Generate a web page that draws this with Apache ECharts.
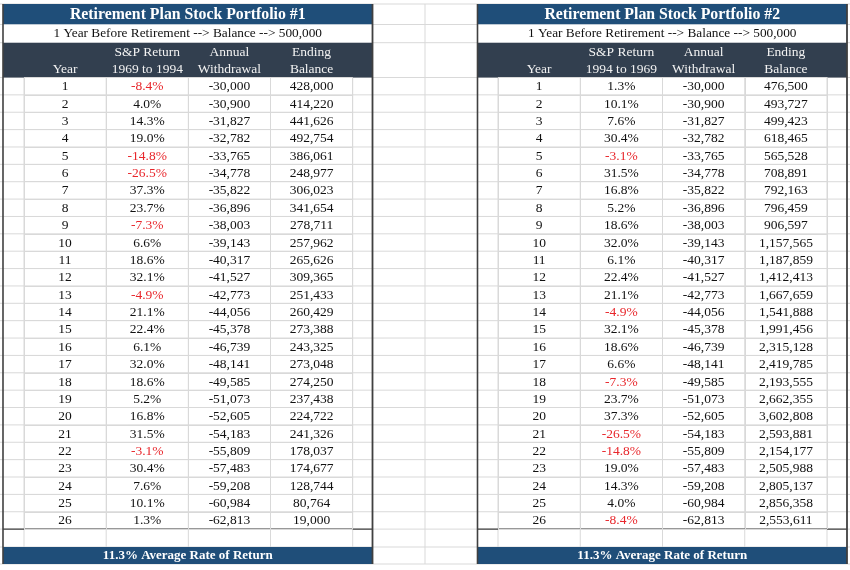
<!DOCTYPE html>
<html>
<head>
<meta charset="utf-8">
<script src="https://cdn.jsdelivr.net/npm/echarts@6/dist/echarts.min.js"></script>
<style>
body { margin: 0; background: #fff; }
#tableDiv { width: 850px; height: 570px; }
</style>
</head>
<body>
<div id="tableDiv"></div>
<script>
var years = [1, 2, 3, 4, 5, 6, 7, 8, 9, 10, 11, 12, 13, 14, 15, 16, 17, 18, 19, 20, 21, 22, 23, 24, 25, 26];
var withdrawals = [-30000, -30900, -31827, -32782, -33765, -34778, -35822, -36896, -38003, -39143, -40317, -41527, -42773,
    -44056, -45378, -46739, -48141, -49585, -51073, -52605, -54183, -55809, -57483, -59208, -60984, -62813];
var returns1 = [-8.4, 4.0, 14.3, 19.0, -14.8, -26.5, 37.3, 23.7, -7.3, 6.6, 18.6, 32.1, -4.9,
    21.1, 22.4, 6.1, 32.0, 18.6, 5.2, 16.8, 31.5, -3.1, 30.4, 7.6, 10.1, 1.3];
var balances1 = [428000, 414220, 441626, 492754, 386061, 248977, 306023, 341654, 278711, 257962, 265626, 309365, 251433,
    260429, 273388, 243325, 273048, 274250, 237438, 224722, 241326, 178037, 174677, 128744, 80764, 19000];
var returns2 = [1.3, 10.1, 7.6, 30.4, -3.1, 31.5, 16.8, 5.2, 18.6, 32.0, 6.1, 22.4, 21.1,
    -4.9, 32.1, 18.6, 6.6, -7.3, 23.7, 37.3, -26.5, -14.8, 19.0, 14.3, 4.0, -8.4];
var balances2 = [476500, 493727, 499423, 618465, 565528, 708891, 792163, 796459, 906597, 1157565, 1187859, 1412413, 1667659,
    1541888, 1991456, 2315128, 2419785, 2193555, 2662355, 3602808, 2593881, 2154177, 2505988, 2805137, 2856358, 2553611];

var titles = ['Retirement Plan Stock Portfolio #1', 'Retirement Plan Stock Portfolio #2'];
var subTitle = '1 Year Before Retirement --> Balance --> 500,000';
var columns = ['Year', 'Return', 'Withdrawal', 'Balance'];
var headTop = ['', 'S&P Return', 'Annual', 'Ending'];
var headBottom1 = ['Year', '1969 to 1994', 'Withdrawal', 'Balance'];
var headBottom2 = ['Year', '1994 to 1969', 'Withdrawal', 'Balance'];
var footers = ['11.3% Average Rate of Return', '11.3% Average Rate of Return'];

// layout / style
var FONT = '"Liberation Serif", "DejaVu Serif", serif';
var BLUE = '#1f4e79', SLATE = '#323f4f', RED = '#e8262b', GRID = '#d9d9d9', BORDER = '#404040';
var titleTop = 4, subTop = 24.5, headTopY = 42.7, dataTop = 77.5, rowH = 17.37;
var dataBottom = dataTop + rowH * years.length;
var footTop = 547, footBottom = 564;
var tables = [
    { left: 24, width: 328.7, edgeL: 3, edgeR: 372.5 },
    { left: 498, width: 329, edgeL: 477.5, edgeR: 847 }
];

function fmtNum(v) {
    return v.toLocaleString('en-US');
}

function line(x1, y1, x2, y2, color, w, z) {
    return { type: 'line', z: z, shape: { x1: x1, y1: y1, x2: x2, y2: y2 }, style: { stroke: color, lineWidth: w } };
}
function rect(x, y, w, h, color, z) {
    return { type: 'rect', z: z, shape: { x: x, y: y, width: w, height: h }, style: { fill: color } };
}
function text(x, y, str, color, size, weight, z) {
    return {
        type: 'text', z: z, x: x, y: y,
        style: { text: str, fill: color, fontSize: size, fontWeight: weight, fontFamily: FONT, align: 'center', verticalAlign: 'middle' }
    };
}

// background sheet gridlines, table frames, title / footer bars
var elements = [];
var hLines = [titleTop, subTop, headTopY, footTop, footBottom];
years.forEach(function (y, i) { hLines.push(dataTop + rowH * i); });
hLines.push(dataBottom);
hLines.forEach(function (y) { elements.push(line(0, y, 850, y, GRID, 1, -10)); });
elements.push(line(425, titleTop, 425, footBottom, GRID, 1, -10));

tables.forEach(function (t, ti) {
    for (var k = 0; k <= 4; k++) {
        var x = t.left + t.width * k / 4;
        elements.push(line(x, dataTop, x, footTop, GRID, 1, -10));
    }
    var w = t.edgeR - t.edgeL, cx = (t.edgeL + t.edgeR) / 2;
    elements.push(rect(t.edgeL, titleTop, w, subTop - titleTop, BLUE, -5));
    elements.push(rect(t.edgeL, subTop, w, headTopY - subTop, '#fff', -5));
    elements.push(rect(t.edgeL, headTopY, w, dataTop - headTopY, SLATE, -5));
    elements.push(rect(t.edgeL, footTop, w, footBottom - footTop, BLUE, -5));
    elements.push(line(t.edgeL, titleTop, t.edgeL, footBottom, BORDER, 1.6, -3));
    elements.push(line(t.edgeR, titleTop, t.edgeR, footBottom, BORDER, 1.8, -3));
    elements.push(line(t.edgeL, dataBottom, t.edgeR, dataBottom, BORDER, 1.2, -3));
    elements.push(text(cx, 15, titles[ti], '#fff', 15.8, 'bold', -2));
    elements.push(text(cx, 33.7, subTitle, '#111', 13.3, 'normal', -2));
    elements.push(text(cx, 556, footers[ti], '#fff', 13, 'bold', -2));
});

function cellSeries(ti, returns, balances) {
    var cells = [], data = [];
    years.forEach(function (y, i) {
        cells.push([String(y), '#111']);
        cells.push([returns[i].toFixed(1) + '%', returns[i] < 0 ? RED : '#111']);
        cells.push([fmtNum(withdrawals[i]), '#111']);
        cells.push([fmtNum(balances[i]), '#111']);
        for (var c = 0; c < 4; c++) data.push([c, i]);
    });
    return {
        type: 'custom',
        xAxisIndex: ti,
        yAxisIndex: ti,
        data: data,
        encode: { x: 0, y: 1 },
        renderItem: function (params, api) {
            var p = api.coord([api.value(0), api.value(1)]);
            var cell = cells[params.dataIndex];
            return {
                type: 'text', x: p[0], y: p[1] + 0.5,
                style: { text: cell[0], fill: cell[1], fontSize: 13.5, fontFamily: FONT, align: 'center', verticalAlign: 'middle' }
            };
        }
    };
}

function xAxisFor(ti, headBottom) {
    return {
        type: 'category', gridIndex: ti, position: 'top', data: columns,
        axisLine: { show: false }, axisTick: { show: false },
        axisLabel: {
            interval: 0, margin: -1, color: '#f2f2f2', fontSize: 13.5, fontFamily: FONT, lineHeight: 17.5,
            formatter: function (v, i) { return headTop[i] + '\n' + headBottom[i]; }
        },
        splitLine: { show: true, lineStyle: { color: GRID, width: 1 } }
    };
}
function yAxisFor(ti) {
    return {
        type: 'category', gridIndex: ti, inverse: true, data: years.map(String),
        axisLine: { show: false }, axisTick: { show: false }, axisLabel: { show: false },
        splitLine: { show: true, lineStyle: { color: GRID, width: 1 } }
    };
}

var myChart = echarts.init(document.getElementById('tableDiv'));
myChart.setOption({
    animation: false,
    backgroundColor: '#fff',
    grid: tables.map(function (t) {
        return { left: t.left, top: dataTop, width: t.width, height: dataBottom - dataTop, containLabel: false };
    }),
    xAxis: [xAxisFor(0, headBottom1), xAxisFor(1, headBottom2)],
    yAxis: [yAxisFor(0), yAxisFor(1)],
    graphic: { elements: elements },
    series: [cellSeries(0, returns1, balances1), cellSeries(1, returns2, balances2)]
});
</script>
</body>
</html>
